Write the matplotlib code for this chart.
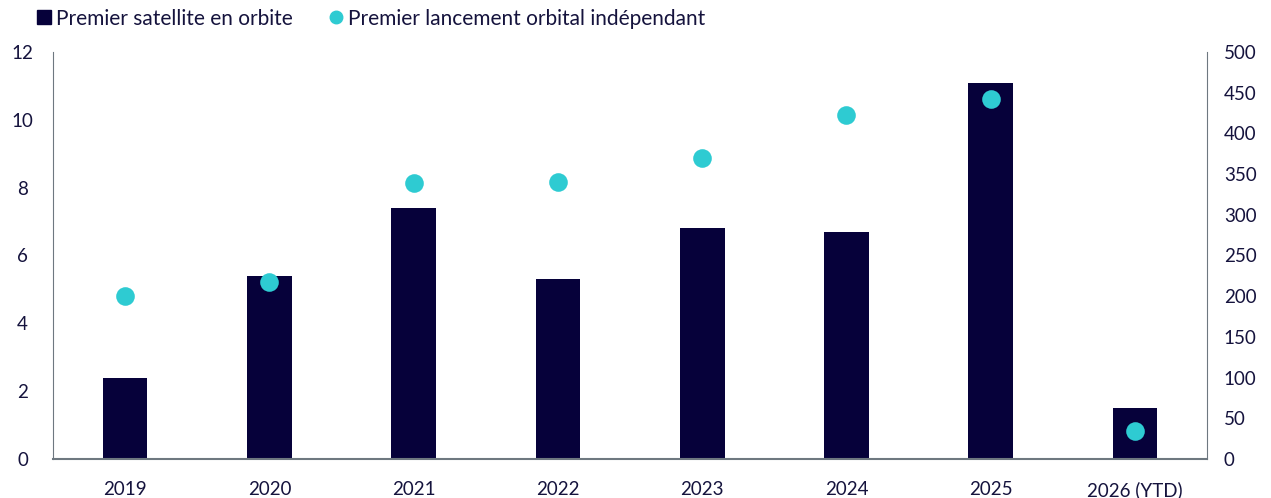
import matplotlib
matplotlib.use("Agg")
import matplotlib.pyplot as plt
from matplotlib.lines import Line2D
import numpy as np

categories = ["2019", "2020", "2021", "2022", "2023", "2024", "2025", "2026 (YTD)"]
satellites = [2.4, 5.4, 7.4, 5.3, 6.8, 6.7, 11.1, 1.5]
launches = [200, 217, 339, 340, 370, 423, 442, 34]

bar_color = "#06013a"
dot_color = "#2ecbd2"
text_color = "#15133d"
spine_color = "#6e7880"

plt.rcParams['font.family'] = ['Lato', 'DejaVu Sans']

fig = plt.figure(figsize=(12.71, 4.98), dpi=100)
ax = fig.add_axes([0.0417, 0.0783, 0.9080, 0.8173])
ax2 = ax.twinx()

x = np.arange(len(categories))
ax.bar(x, satellites, width=0.31, color=bar_color, zorder=2)
ax2.scatter(x, launches, s=180, color=dot_color, zorder=3, linewidths=0)

ax.set_xlim(-0.5, len(categories) - 0.5)
ax.set_ylim(0, 12)
ax.set_yticks(range(0, 13, 2))
ax2.set_ylim(0, 500)
ax2.set_yticks(range(0, 501, 50))
ax.set_xticks(x)
ax.set_xticklabels(categories)

for a in (ax, ax2):
    for s in ("top", "left", "right", "bottom"):
        a.spines[s].set_visible(False)
    a.tick_params(length=0, labelsize=13.5, labelcolor=text_color)
ax.spines["left"].set_visible(True)
ax.spines["left"].set_color(spine_color)
ax.spines["bottom"].set_visible(True)
ax.spines["bottom"].set_color(spine_color)
ax.spines["bottom"].set_linewidth(1.5)
ax2.spines["right"].set_visible(True)
ax2.spines["right"].set_color(spine_color)
ax.tick_params(axis="y", pad=22)
ax.tick_params(axis="x", pad=16)
ax2.tick_params(axis="y", pad=12)
for lbl in ax.get_yticklabels():
    lbl.set_horizontalalignment("center")

handles = [
    Line2D([], [], marker="s", linestyle="none", color=bar_color, markersize=10),
    Line2D([], [], marker="o", linestyle="none", color=dot_color, markersize=9),
]
fig.legend(handles, ["Premier satellite en orbite", "Premier lancement orbital indépendant"],
           loc="upper left", bbox_to_anchor=(0.012, 1.02), ncol=2, frameon=False,
           fontsize=15, labelcolor=text_color, handletextpad=0.05, columnspacing=1.6,
           handlelength=1.0)

fig.savefig("out.png", dpi=100)
